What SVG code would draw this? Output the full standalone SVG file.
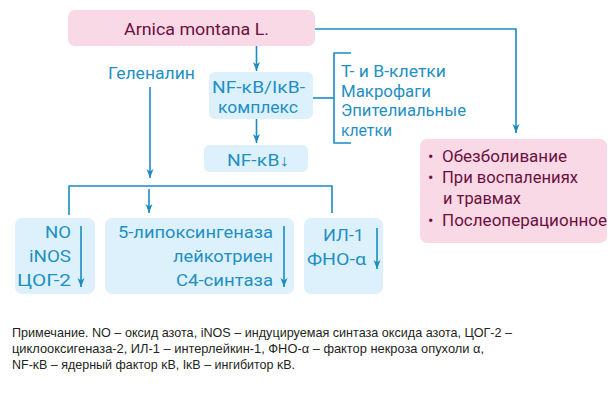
<svg xmlns="http://www.w3.org/2000/svg" width="608" height="396" viewBox="0 0 608 396">
<defs>
<style>
.pink{fill:#f9d9e5}
.blue{fill:#dcf1fb}
.pt{font-family:Roboto,"Liberation Sans",sans-serif;font-size:16px;fill:#6b1040}
.bt{font-family:Roboto,"Liberation Sans",sans-serif;font-size:16px;fill:#1f8fc4}
.ln{fill:none;stroke:#1a8cc3;stroke-width:1.6}
.note{font-family:"Liberation Sans",Arial,sans-serif;font-size:13px;fill:#231f20}
</style>
<marker id="ah" markerUnits="userSpaceOnUse" markerWidth="10" markerHeight="8" refX="9" refY="3.5" orient="auto">
<path d="M0,0 L9,3.5 L0,7 L2.5,3.5 z" fill="#1a8cc3"/>
</marker>
</defs>
<rect width="608" height="396" fill="#ffffff"/>

<g id="arnica">
<rect class="pink" x="68" y="10" width="247" height="36" rx="7"/>
<text class="pt" x="124" y="35" textLength="145" lengthAdjust="spacingAndGlyphs">Arnica montana L.</text>
</g>

<g id="effects">
<rect class="pink" x="420" y="139" width="187" height="104" rx="7"/>
<text class="pt" x="428" y="162" font-size="12">•</text>
<text class="pt" x="442" y="162" textLength="125" lengthAdjust="spacingAndGlyphs">Обезболивание</text>
<text class="pt" x="428" y="183" font-size="12">•</text>
<text class="pt" x="442" y="183" textLength="136" lengthAdjust="spacingAndGlyphs">При воспалениях</text>
<text class="pt" x="443" y="204" textLength="78" lengthAdjust="spacingAndGlyphs">и травмах</text>
<text class="pt" x="428" y="226" font-size="12">•</text>
<text class="pt" x="442" y="226" textLength="165" lengthAdjust="spacingAndGlyphs">Послеоперационное</text>
</g>

<g id="helenalin">
<text class="bt" x="108" y="79" textLength="87" lengthAdjust="spacingAndGlyphs">Геленалин</text>
</g>

<g id="complex">
<rect class="blue" x="209" y="72" width="104" height="47" rx="6"/>
<text class="bt" x="212" y="93" textLength="93" lengthAdjust="spacingAndGlyphs">NF-κB/IκB-</text>
<text class="bt" x="218" y="113" textLength="80" lengthAdjust="spacingAndGlyphs">комплекс</text>
</g>

<g id="nfkb">
<rect class="blue" x="204" y="145" width="104" height="27" rx="6"/>
<text class="bt" x="227" y="166" textLength="62" lengthAdjust="spacingAndGlyphs">NF-κB↓</text>
</g>

<g id="cells">
<text class="bt" x="341" y="77" textLength="105" lengthAdjust="spacingAndGlyphs">Т- и В-клетки</text>
<text class="bt" x="341" y="97" textLength="90" lengthAdjust="spacingAndGlyphs">Макрофаги</text>
<text class="bt" x="341" y="116" textLength="125" lengthAdjust="spacingAndGlyphs">Эпителиальные</text>
<text class="bt" x="341" y="135.5" textLength="51" lengthAdjust="spacingAndGlyphs">клетки</text>
</g>

<g id="no-box">
<rect class="blue" x="15" y="218" width="80" height="76" rx="7"/>
<text class="bt" x="45" y="238" textLength="26" lengthAdjust="spacingAndGlyphs">NO</text>
<text class="bt" x="29" y="262" textLength="42" lengthAdjust="spacingAndGlyphs">iNOS</text>
<text class="bt" x="17" y="286" textLength="54" lengthAdjust="spacingAndGlyphs">ЦОГ-2</text>
</g>

<g id="lox-box">
<rect class="blue" x="105" y="218" width="189" height="76" rx="7"/>
<text class="bt" x="118" y="238" textLength="155" lengthAdjust="spacingAndGlyphs">5-липоксингеназа</text>
<text class="bt" x="173" y="262" textLength="100" lengthAdjust="spacingAndGlyphs">лейкотриен</text>
<text class="bt" x="176" y="286" textLength="97" lengthAdjust="spacingAndGlyphs">С4-синтаза</text>
</g>

<g id="il-box">
<rect class="blue" x="304" y="218" width="79" height="76" rx="7"/>
<text class="bt" x="323" y="241" textLength="41" lengthAdjust="spacingAndGlyphs">ИЛ-1</text>
<text class="bt" x="307" y="265" textLength="59" lengthAdjust="spacingAndGlyphs">ФНО-α</text>
</g>

<g id="connectors">
<path class="ln" d="M315,29 H516 V133" marker-end="url(#ah)"/>
<path class="ln" d="M256.5,46 V71" marker-end="url(#ah)"/>
<path class="ln" d="M256.5,119 V143" marker-end="url(#ah)"/>
<path class="ln" d="M313,98 H334"/>
<path class="ln" d="M351,53 H334 V143 H351"/>
<path class="ln" d="M150,87 V178" marker-end="url(#ah)"/>
<path class="ln" d="M69,215 V186 H332 V213"/>
<path class="ln" d="M149,189 V213" marker-end="url(#ah)"/>
<path class="ln" d="M81,226 V287" marker-end="url(#ah)"/>
<path class="ln" d="M284,226 V287" marker-end="url(#ah)"/>
<path class="ln" d="M377,228 V269" marker-end="url(#ah)"/>
</g>

<g id="note">
<text class="note" x="12" y="336.5" textLength="500" lengthAdjust="spacingAndGlyphs">Примечание. NO – оксид азота, iNOS – индуцируемая синтаза оксида азота, ЦОГ-2 –</text>
<text class="note" x="12" y="352.5" textLength="472" lengthAdjust="spacingAndGlyphs">циклооксигеназа-2, ИЛ-1 – интерлейкин-1, ФНО-α – фактор некроза опухоли α,</text>
<text class="note" x="12" y="368.5" textLength="283" lengthAdjust="spacingAndGlyphs">NF-κB – ядерный фактор κB, IκB – ингибитор κB.</text>
</g>
</svg>
